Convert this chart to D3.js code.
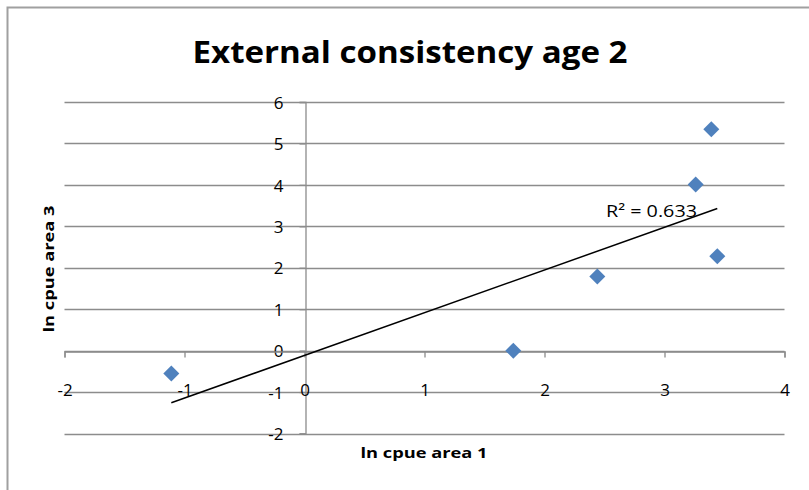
<!DOCTYPE html>
<html>
<head>
<meta charset="utf-8">
<script src="https://cdn.jsdelivr.net/npm/d3@7"></script>
<style>
  html, body { margin: 0; padding: 0; background: #fff; }
  svg { display: block; }
</style>
</head>
<body>
<svg id="chart" width="809" height="490"></svg>
<script>
// ln CPUE, age 2: area 1 (x) against area 3 (y)
const lnCpueArea1 = [-1.11, 1.74, 2.44, 3.26, 3.39, 3.44];
const lnCpueArea3 = [-0.55, 0.00, 1.79, 4.01, 5.34, 2.28];
const xTicks = [-2, -1, 0, 1, 2, 3, 4];
const yTicks = [-2, -1, 0, 1, 2, 3, 4, 5, 6];
const titleText = "External consistency age 2";
const xTitle = "ln cpue  area 1";
const yTitle = "ln cpue  area 3";
const rSquaredLabel = "R² = 0.633";

const svg = d3.select("#chart");
const font = "'Open Sans', 'Liberation Sans', sans-serif";
const tickFmt = d => String(d); // plain hyphen-minus for negatives

// Chart frame
svg.append("path")
  .attr("d", "M7.5,490 V7.5 H809")
  .attr("fill", "none")
  .attr("stroke", "#a0a0a0")
  .attr("stroke-width", 2);

const x = d3.scaleLinear().domain([-2, 4]).range([64.5, 784.5]);
const y = d3.scaleLinear().domain([-2, 6]).range([433.5, 102]);

// Horizontal gridlines
svg.append("g")
  .selectAll("line")
  .data(yTicks)
  .join("line")
  .attr("x1", x(-2)).attr("x2", x(4))
  .attr("y1", d => Math.round(y(d)) + 0.5).attr("y2", d => Math.round(y(d)) + 0.5)
  .attr("stroke", "#8c8c8c")
  .attr("stroke-width", 1.3);

// Vertical axis through x = 0 with left-pointing ticks
const yAxis = d3.axisLeft(y).tickValues(yTicks).tickSize(6).tickFormat(tickFmt);
const gy = svg.append("g").attr("transform", `translate(${Math.round(x(0)) + 0.5},0)`).call(yAxis);
gy.select(".domain").attr("stroke", "#8c8c8c").attr("stroke-width", 1.3);
gy.selectAll(".tick line").attr("stroke", "#8c8c8c").attr("stroke-width", 1.3);
gy.selectAll(".tick text")
  .attr("font-family", font).attr("font-size", 17).attr("fill", "#000")
  .attr("x", -22).attr("dy", "0.36em");

// Horizontal axis through y = 0 with downward ticks; labels sit lower
const xAxis = d3.axisBottom(x).tickValues(xTicks).tickSize(6).tickFormat(tickFmt);
const gx = svg.append("g").attr("transform", `translate(0,${Math.round(y(0)) + 0.5})`).call(xAxis);
gx.select(".domain").attr("stroke", "#8c8c8c").attr("stroke-width", 1.3);
gx.selectAll(".tick line").attr("stroke", "#8c8c8c").attr("stroke-width", 1.3);
gx.selectAll(".tick text")
  .attr("font-family", font).attr("font-size", 17).attr("fill", "#000")
  .attr("y", 38).attr("dy", "0.36em");

// Least-squares trend line
const n = lnCpueArea1.length;
const mx = d3.mean(lnCpueArea1), my = d3.mean(lnCpueArea3);
let sxy = 0, sxx = 0;
for (let i = 0; i < n; i++) {
  sxy += (lnCpueArea1[i] - mx) * (lnCpueArea3[i] - my);
  sxx += (lnCpueArea1[i] - mx) ** 2;
}
const slope = sxy / sxx;
const intercept = my - slope * mx;
const [xMin, xMax] = d3.extent(lnCpueArea1);

svg.append("line")
  .attr("x1", x(xMin)).attr("y1", y(intercept + slope * xMin))
  .attr("x2", x(xMax)).attr("y2", y(intercept + slope * xMax))
  .attr("stroke", "#000")
  .attr("stroke-width", 1.5);

// Data points as diamonds
svg.append("g")
  .selectAll("path")
  .data(d3.range(n))
  .join("path")
  .attr("transform", i => `translate(${x(lnCpueArea1[i])},${y(lnCpueArea3[i])})`)
  .attr("d", "M0,-8 L8,0 L0,8 L-8,0 Z")
  .attr("fill", "#4f81bd");

// R² label
svg.append("text")
  .attr("x", 606).attr("y", 217)
  .attr("font-family", font).attr("font-size", 17).attr("fill", "#000")
  .attr("textLength", 91).attr("lengthAdjust", "spacingAndGlyphs")
  .text(rSquaredLabel);

// Title
svg.append("text")
  .attr("x", 410).attr("y", 63)
  .attr("text-anchor", "middle")
  .attr("font-family", font).attr("font-weight", "bold").attr("font-size", 31)
  .attr("textLength", 435).attr("lengthAdjust", "spacingAndGlyphs")
  .attr("fill", "#000")
  .text(titleText);

// Axis titles
svg.append("text")
  .attr("x", 424).attr("y", 458)
  .attr("text-anchor", "middle")
  .attr("font-family", font).attr("font-weight", "bold").attr("font-size", 15)
  .attr("textLength", 127).attr("lengthAdjust", "spacingAndGlyphs")
  .attr("fill", "#000")
  .text(xTitle);

svg.append("text")
  .attr("transform", "translate(54,269) rotate(-90)")
  .attr("text-anchor", "middle")
  .attr("font-family", font).attr("font-weight", "bold").attr("font-size", 15)
  .attr("textLength", 127).attr("lengthAdjust", "spacingAndGlyphs")
  .attr("fill", "#000")
  .text(yTitle);
</script>
</body>
</html>
